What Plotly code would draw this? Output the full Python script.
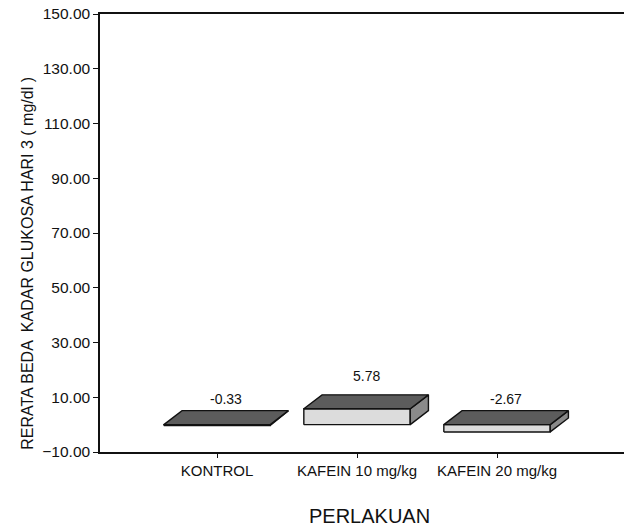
import plotly.graph_objects as go

# Treatment groups and mean differences of blood glucose on day 3
categories = ["KONTROL", "KAFEIN 10 mg/kg", "KAFEIN 20 mg/kg"]
values = [-0.33, 5.78, -2.67]
value_labels = ["-0.33", "5.78", "-2.67"]
y_ticks = [-10, 10, 30, 50, 70, 90, 110, 130, 150]

FONT = "Liberation Sans, Arial, sans-serif"

# Box geometry (x in category units, y in data units)
W = 0.76      # front face width
DX = 0.13     # depth offset to the right
DY = 5.1      # depth offset upward

TOP_COLOR = "#5c5c5c"
FRONT_COLOR = "#dcdcdc"
SIDE_COLOR = "#8a8a8a"

fig = go.Figure()


def poly(xs, ys, color):
    fig.add_trace(go.Scatter(
        x=xs + [xs[0]], y=ys + [ys[0]], mode="lines", fill="toself",
        fillcolor=color, line=dict(color="#111111", width=1.4),
        hoverinfo="skip", showlegend=False,
    ))


for i, v in enumerate(values):
    y0, y1 = min(0, v), max(0, v)
    xl, xr = i - W / 2, i + W / 2
    # front face
    poly([xl, xr, xr, xl], [y0, y0, y1, y1], FRONT_COLOR)
    # side face
    poly([xr, xr + DX, xr + DX, xr], [y0, y0 + DY, y1 + DY, y1], SIDE_COLOR)
    # top face
    poly([xl, xr, xr + DX, xl + DX], [y1, y1, y1 + DY, y1 + DY], TOP_COLOR)
    fig.add_annotation(
        x=i + DX / 2, y=y1 + DY, text=value_labels[i], showarrow=False,
        yanchor="bottom", yshift=9 if v >= 0 else 2,
        font=dict(family=FONT, size=14, color="#111111"),
    )

# Axis titles
fig.add_annotation(
    xref="paper", yref="paper", x=-0.139, y=0.43, textangle=-90,
    xanchor="center", yanchor="middle",
    text="RERATA BEDA  KADAR GLUKOSA HARI 3 ( mg/dl )", showarrow=False,
    font=dict(family=FONT, size=16, color="#111111"),
)
fig.add_annotation(
    xref="paper", yref="paper", x=0.515, y=-0.147, xanchor="center", yanchor="middle",
    text="PERLAKUAN", showarrow=False,
    font=dict(family=FONT, size=20, color="#111111"),
)

fig.update_layout(
    width=624, height=529,
    margin=dict(l=100, r=0, t=14, b=77),
    paper_bgcolor="white", plot_bgcolor="white",
    font=dict(family=FONT, size=15, color="#111111"),
    xaxis=dict(
        range=[-0.836, 2.907], tickmode="array", tickvals=list(range(len(categories))),
        ticktext=categories, showgrid=False, zeroline=False,
        showline=True, linecolor="#111111", linewidth=1.5, mirror=True,
        ticks="outside", ticklen=4, tickcolor="#111111",
        tickfont=dict(size=15),
        fixedrange=True,
    ),
    yaxis=dict(
        range=[-10, 150], tickmode="array", tickvals=y_ticks, tickformat=".2f",
        showgrid=False, zeroline=False,
        showline=True, linecolor="#111111", linewidth=1.5,
        ticks="outside", ticklen=5, tickcolor="#111111",
        tickfont=dict(size=15.5),
    ),
)

fig.write_html("out.html")
